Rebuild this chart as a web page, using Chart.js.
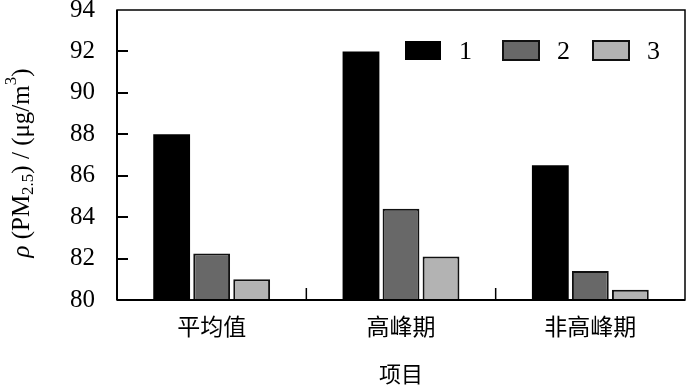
<!DOCTYPE html>
<html>
<head>
<meta charset="utf-8">
<script src="https://cdn.jsdelivr.net/npm/chart.js@4.4.1/dist/chart.umd.min.js"></script>
<style>
  html, body { margin: 0; padding: 0; background: #fff; }
  #wrap { width: 686px; height: 387px; }
</style>
</head>
<body>
<div id="wrap"><canvas id="myChart" width="686" height="387"></canvas></div>
<script>
const categories = ["平均值", "高峰期", "非高峰期"];
const seriesNames = ["1", "2", "3"];
const series1 = [88.0, 92.0, 86.5];
const series2 = [82.25, 84.4, 81.4];
const series3 = [81.0, 82.1, 80.5];
const yTicks = [80, 82, 84, 86, 88, 90, 92, 94];
const xTitle = "项目";

const serif = "Liberation Serif";
const cjk = "'Noto Sans CJK SC', 'Liberation Serif', serif";

// frame, inward ticks, legend and rich y title
const decorations = {
  id: "decorations",
  afterDraw(chart) {
    const ctx = chart.ctx;
    const a = chart.chartArea;
    const xs = chart.scales.x;
    const ys = chart.scales.y;
    ctx.save();
    ctx.strokeStyle = "#000";
    ctx.lineWidth = 1.5;
    ctx.strokeRect(a.left, a.top, a.right - a.left, a.bottom - a.top);
    ctx.lineWidth = 2;
    ctx.beginPath();
    ctx.moveTo(a.left, a.top); ctx.lineTo(a.left, a.bottom);
    ctx.moveTo(a.left, a.bottom); ctx.lineTo(a.right, a.bottom);
    ctx.stroke();

    // y ticks pointing in
    ctx.lineWidth = 2;
    yTicks.slice(1, -1).forEach(function (v) {
      const y = Math.round(ys.getPixelForValue(v));
      ctx.beginPath();
      ctx.moveTo(a.left, y);
      ctx.lineTo(a.left + 11, y);
      ctx.stroke();
    });
    // x ticks at category boundaries
    ctx.lineWidth = 1.5;
    for (let i = 1; i < categories.length; i++) {
      const x = (xs.getPixelForValue(i - 1) + xs.getPixelForValue(i)) / 2;
      ctx.beginPath();
      ctx.moveTo(x, a.bottom);
      ctx.lineTo(x, a.bottom - 12);
      ctx.stroke();
    }

    // legend
    const boxX = [405, 503, 593];
    ctx.font = "26px '" + serif + "'";
    ctx.textBaseline = "middle";
    ctx.textAlign = "left";
    chart.data.datasets.forEach(function (ds, i) {
      ctx.fillStyle = ds.backgroundColor;
      ctx.fillRect(boxX[i], 41, 36, 19);
      if (ds.borderWidth) {
        ctx.strokeStyle = ds.borderColor;
        ctx.lineWidth = ds.borderWidth;
        ctx.strokeRect(boxX[i], 41, 36, 19);
      }
      ctx.fillStyle = "#000";
      ctx.fillText(ds.label, boxX[i] + 54, 52);
    });

    // y title with sub/superscript
    const f = "px '" + serif + "'";
    const parts = [
      { t: "ρ", f: "italic 25" + f, dy: 0 },
      { t: " (PM", f: "25" + f, dy: 0 },
      { t: "2.5", f: "17" + f, dy: 7 },
      { t: ") / (μg/m", f: "25" + f, dy: 0 },
      { t: "3", f: "17" + f, dy: -10 },
      { t: ")", f: "25" + f, dy: 0 }
    ];
    let total = 0;
    parts.forEach(function (p) { ctx.font = p.f; p.w = ctx.measureText(p.t).width; total += p.w; });
    ctx.translate(22, 163);
    ctx.rotate(-Math.PI / 2);
    ctx.fillStyle = "#000";
    ctx.textBaseline = "middle";
    let x = -total / 2;
    parts.forEach(function (p) {
      ctx.font = p.f;
      ctx.fillText(p.t, x, p.dy);
      x += p.w;
    });
    ctx.restore();
  }
};

const chart = new Chart(document.getElementById("myChart").getContext("2d"), {
  type: "bar",
  data: {
    labels: categories,
    datasets: [
      { label: seriesNames[0], data: series1, backgroundColor: "#000000", borderColor: "#000000", borderWidth: 0 },
      { label: seriesNames[1], data: series2, backgroundColor: "#686868", borderColor: "#111111", borderWidth: 2 },
      { label: seriesNames[2], data: series3, backgroundColor: "#b3b3b3", borderColor: "#111111", borderWidth: 2 }
    ]
  },
  options: {
    responsive: false,
    animation: false,
    devicePixelRatio: 1,
    layout: { padding: { top: 10, right: 1, left: 0, bottom: 0 } },
    datasets: { bar: { categoryPercentage: 0.634, barPercentage: 0.92 } },
    plugins: { legend: { display: false }, tooltip: { enabled: false } },
    scales: {
      x: {
        grid: { display: false, drawTicks: false },
        border: { display: false },
        ticks: { color: "#000", font: { family: cjk, size: 23 }, padding: 12 },
        title: { display: true, text: xTitle, color: "#000", font: { family: cjk, size: 22 }, padding: { top: 4, bottom: 0 } },
        afterFit: function (s) { s.height = 87; s.paddingLeft = 0; s.paddingRight = 0; }
      },
      y: {
        min: yTicks[0],
        max: yTicks[yTicks.length - 1],
        afterBuildTicks: function (s) { s.ticks = yTicks.map(function (v) { return { value: v }; }); },
        grid: { display: false, drawTicks: false },
        border: { display: false },
        ticks: { color: "#000", font: { family: serif, size: 25 }, padding: 22 },
        afterFit: function (s) { s.width = 117; s.paddingTop = 0; s.paddingBottom = 0; }
      }
    }
  },
  plugins: [decorations]
});
</script>
</body>
</html>
